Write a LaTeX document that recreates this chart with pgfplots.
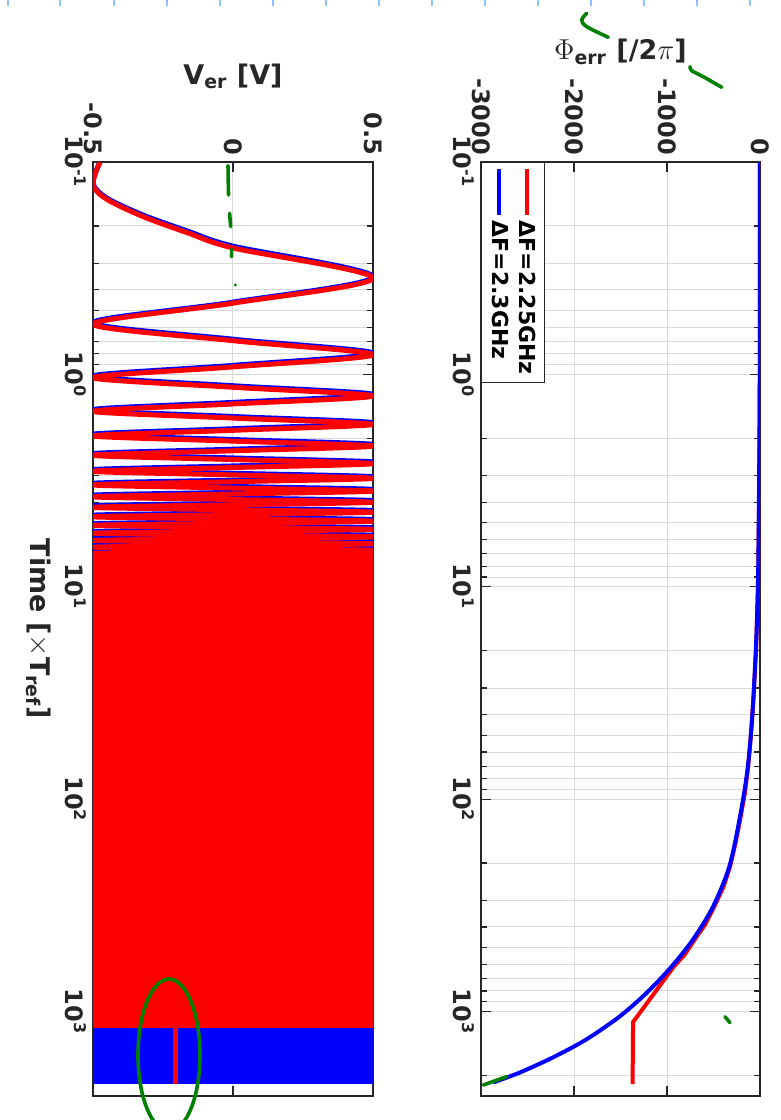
\documentclass[border=0pt]{standalone}
\usepackage{graphicx}
\usepackage{pgfplots}
\pgfplotsset{compat=1.18}
\usepackage{fontspec}
\setmainfont{DejaVu Sans}

\definecolor{axgray}{gray}{0.15}
\definecolor{grd}{gray}{0.85}
\definecolor{pen}{RGB}{0,128,0}
\definecolor{ruler}{RGB}{140,195,255}

\begin{document}
\rotatebox{-90}{%
\begin{tikzpicture}
\path[use as bounding box] (0,0) rectangle (560pt,390.5pt);

% upper panel: phase error
\begin{axis}[
  scale only axis, width=467pt, height=139.5pt,
  at={(81pt,240.5pt)}, anchor=south west,
  xmode=log, xmin=0.1, xmax=2500,
  xtick={0.1,1,10,100,1000},
  xticklabels={10\textsuperscript{-1},10\textsuperscript{0},10\textsuperscript{1},10\textsuperscript{2},10\textsuperscript{3}},
  minor xtick={0.2,0.3,0.4,0.5,0.6,0.7,0.8,0.9,2,3,4,5,6,7,8,9,20,30,40,50,60,70,80,90,200,300,400,500,600,700,800,900,2000},
  tick pos=both, tick align=inside,
  major tick length=5pt, minor tick length=3pt,
  xmajorgrids, xminorgrids, ymajorgrids,
  grid style={grd, line width=0.5pt},
  minor grid style={grd, line width=0.5pt},
  axis line style={axgray, line width=0.7pt},
  tick style={axgray, line width=0.6pt},
  tick label style={font=\bfseries\fontsize{12}{14}\selectfont, text=axgray},
  label style={font=\bfseries\fontsize{13.5}{16}\selectfont, text=axgray},
  scaled ticks=false,
  ymin=-3000, ymax=0,
  ytick={-3000,-2000,-1000,0}, yticklabels={-3000,-2000,-1000,0},
  ylabel={$\Phi$\textsubscript{err} [/2$\pi$]},
  legend style={at={(0,0)}, anchor=south west, draw=axgray, line width=0.6pt,
    font=\bfseries\fontsize{11}{13}\selectfont, inner sep=2pt},
  legend cell align=left,
  legend image code/.code={\draw[#1] (0pt,0pt) -- (23pt,0pt);},
]
\addplot[red, line width=2pt] coordinates {
  (0.1,-0.22) (1,-2.2) (3,-6.6) (10,-21) (20,-43) (34,-71) (50,-98) (70,-127)
  (95,-165) (121,-208) (160,-262) (208,-322) (260,-395) (321,-492) (390,-590)
  (458,-702) (540,-810) (614,-926) (1122,-1365) (2200,-1370)
};
\addlegendentry{ΔF=2.25GHz}
\addplot[blue, line width=2pt, smooth] coordinates {
  (0.1,-0.23) (1,-2.3) (10,-22.5) (34,-72) (70,-130) (121,-215) (208,-330)
  (321,-505) (458,-720) (614,-950) (814,-1215) (1056,-1510) (1356,-1870)
  (1644,-2225) (1936,-2580) (2160,-2870)
};
\addlegendentry{ΔF=2.3GHz}
\end{axis}

% lower panel: error voltage
\begin{axis}[
  scale only axis, width=467pt, height=140pt,
  at={(81pt,46.5pt)}, anchor=south west,
  xmode=log, xmin=0.1, xmax=2500,
  xtick={0.1,1,10,100,1000},
  xticklabels={10\textsuperscript{-1},10\textsuperscript{0},10\textsuperscript{1},10\textsuperscript{2},10\textsuperscript{3}},
  minor xtick={0.2,0.3,0.4,0.5,0.6,0.7,0.8,0.9,2,3,4,5,6,7,8,9,20,30,40,50,60,70,80,90,200,300,400,500,600,700,800,900,2000},
  tick pos=both, tick align=inside,
  major tick length=5pt, minor tick length=3pt,
  xmajorgrids, xminorgrids, ymajorgrids,
  grid style={grd, line width=0.5pt},
  minor grid style={grd, line width=0.5pt},
  axis line style={axgray, line width=0.7pt},
  tick style={axgray, line width=0.6pt},
  tick label style={font=\bfseries\fontsize{12}{14}\selectfont, text=axgray},
  label style={font=\bfseries\fontsize{13.5}{16}\selectfont, text=axgray},
  scaled ticks=false,
  ymin=-0.5, ymax=0.5,
  ytick={-0.5,0,0.5}, yticklabels={-0.5,0,0.5},
  ylabel={V\textsubscript{er} [V]},
  xlabel={Time [$\times$T\textsubscript{ref}]},
]
\addplot[fill=blue, draw=none] coordinates {(6.9,-0.5) (2200,-0.5) (2200,0.5) (6.9,0.5)};
\addplot[blue, line width=2.5pt, smooth] coordinates {
  (0.1,-0.475) (0.126,-0.5) (0.148,-0.45) (0.178,-0.32) (0.212,-0.16) (0.249,0)
  (0.347,0.5) (0.457,0) (0.571,-0.5) (0.683,0) (0.795,0.5) (0.907,0) (1.019,-0.5)
  (1.131,0) (1.243,0.5) (1.355,0) (1.467,-0.5) (1.579,0) (1.691,0.5) (1.803,0)
  (1.915,-0.5) (2.027,0) (2.139,0.5) (2.251,0) (2.363,-0.5) (2.475,0) (2.587,0.5)
  (2.699,0) (2.811,-0.5) (2.923,0) (3.035,0.5) (3.147,0) (3.259,-0.5) (3.371,0)
  (3.483,0.5) (3.595,0) (3.707,-0.5) (3.819,0) (3.931,0.5) (4.043,0) (4.155,-0.5)
  (4.267,0) (4.379,0.5) (4.491,0) (4.603,-0.5) (4.715,0) (4.827,0.5) (4.939,0)
  (5.051,-0.5) (5.163,0) (5.275,0.5) (5.387,0) (5.499,-0.5) (5.611,0) (5.723,0.5)
  (5.835,0) (5.947,-0.5) (6.059,0) (6.171,0.5) (6.283,0) (6.395,-0.5) (6.507,0)
  (6.619,0.5) (6.731,0) (6.843,-0.5) (6.955,0) (7.067,0.5) (7.179,0) (7.291,-0.5)
  (7.403,0) (7.515,0.5)
};
\addplot[red, line width=2.5pt, smooth] coordinates {
  (0.1,-0.475) (0.128,-0.5) (0.15,-0.45) (0.181,-0.32) (0.216,-0.16) (0.254,0)
  (0.352,0.5) (0.462,0) (0.58,-0.5) (0.694,0) (0.808,0.5) (0.922,0) (1.036,-0.5)
  (1.15,0) (1.264,0.5) (1.378,0) (1.492,-0.5) (1.606,0) (1.72,0.5) (1.834,0)
  (1.948,-0.5) (2.062,0) (2.176,0.5) (2.29,0) (2.404,-0.5) (2.518,0) (2.632,0.5)
  (2.746,0) (2.86,-0.5) (2.974,0) (3.088,0.5) (3.202,0) (3.316,-0.5) (3.43,0)
  (3.544,0.5) (3.658,0) (3.772,-0.5) (3.886,0) (4.0,0.5) (4.114,0) (4.228,-0.5)
  (4.342,0) (4.456,0.5) (4.57,0) (4.684,-0.5) (4.798,0) (4.912,0.5) (5.026,0)
  (5.14,-0.5) (5.254,0) (5.368,0.5) (5.482,0) (5.596,-0.5) (5.71,0) (5.824,0.5)
  (5.938,0) (6.052,-0.5) (6.166,0) (6.28,0.5) (6.394,0) (6.508,-0.5) (6.622,0)
  (6.736,0.5) (6.85,0) (6.964,-0.5) (7.078,0) (7.192,0.5) (7.306,0) (7.42,-0.5)
};
\addplot[fill=red, draw=none] coordinates {(6.9,-0.5) (1190,-0.5) (1190,0.5) (6.9,0.5)};
\addplot[red, line width=2.5pt] coordinates {(1190,-0.204) (2200,-0.204)};
\end{axis}

% hand-drawn marks and page ruler
\begin{scope}[x=0.5pt, y=0.5pt]
  \foreach \r in {7.5,60,114,166.5,220,272.5,325.5,378.5,431.5,484.5,537.5,590.5,643.5,696.5,749.5}
    \draw[ruler, line width=1pt] (0,\r) -- (6,\r);
  \begin{scope}[pen, line width=1.8pt, line cap=round]
    \draw plot[smooth] coordinates {(13.3,586.7) (20,581.7) (26.7,586.7) (37.3,608.3)};
    \draw plot[smooth] coordinates {(66.7,690) (70.7,691.7) (76.7,703.3) (87.3,721.7)};
    \draw (165.7,228) -- (195,228.5);
    \draw (213.3,229.6) -- (226.7,230.7);
    \draw (249.3,231.7) -- (256.7,231.5);
    \fill (285,235.3) circle (1.6);
    \draw (1016.7,725) -- (1022.7,730);
    \draw (1085,483.3) -- (1076.7,506.7);
    \draw (1055,169) ellipse (76 and 31);
  \end{scope}
\end{scope}
\end{tikzpicture}}
\end{document}
